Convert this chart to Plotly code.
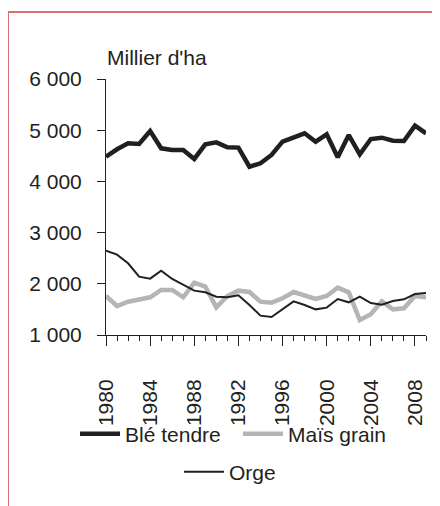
import plotly.graph_objects as go

years = list(range(1980, 2010))
ble_tendre = [4482, 4627, 4744, 4730, 4984, 4646, 4613, 4613, 4438, 4724,
              4763, 4666, 4660, 4287, 4353, 4516, 4776, 4854, 4939, 4776,
              4919, 4470, 4906, 4529, 4828, 4854, 4795, 4790, 5088, 4939]
mais_grain = [1762, 1566, 1651, 1684, 1736, 1879, 1879, 1736, 2022, 1944,
              1540, 1762, 1866, 1840, 1651, 1632, 1717, 1840, 1762, 1703,
              1762, 1924, 1834, 1293, 1404, 1658, 1501, 1521, 1762, 1736]
orge = [2647, 2569, 2400, 2139, 2100, 2256, 2094, 1977, 1866, 1834,
        1749, 1736, 1775, 1586, 1378, 1352, 1501, 1658, 1586, 1501,
        1534, 1703, 1638, 1749, 1625, 1592, 1664, 1697, 1801, 1820]

y_tickvals = [1000, 2000, 3000, 4000, 5000, 6000]
y_ticktext = ["1 000", "2 000", "3 000", "4 000", "5 000", "6 000"]
unit_label = "Millier d'ha"

FONT = "Liberation Sans, Arial, sans-serif"
TXT = "#231f20"
FS = 21

fig = go.Figure()
fig.add_trace(go.Scatter(x=years, y=ble_tendre, mode="lines", name="Blé tendre",
                         line=dict(color="#231f20", width=4.5), legend="legend"))
fig.add_trace(go.Scatter(x=years, y=mais_grain, mode="lines", name="Maïs grain",
                         line=dict(color="#b4b5b8", width=4.5), legend="legend"))
fig.add_trace(go.Scatter(x=years, y=orge, mode="lines", name="Orge",
                         line=dict(color="#231f20", width=2), legend="legend2"))

OFF = 8  # page body margin
W, H = 440, 506
L, T = 106 - OFF, 79 - OFF
pw, ph = 320, 256
R, B = W - L - pw, H - T - ph

def px_x(x):
    return (x - OFF - L) / pw

def px_y(y):
    return (T + ph - (y - OFF)) / ph

fig.update_layout(
    width=W, height=H,
    margin=dict(l=L, r=R, t=T, b=B),
    paper_bgcolor="white", plot_bgcolor="white",
    font=dict(family=FONT, size=FS, color=TXT),
    xaxis=dict(range=[1980, 2009], tick0=1980, dtick=4, ticks="outside",
               ticklen=10, tickcolor=TXT, showline=True, linecolor=TXT,
               linewidth=1, showgrid=False, zeroline=False, tickangle=-90,
               ticklabelstandoff=25,
               minor=dict(dtick=1, ticks="outside", ticklen=5, tickcolor=TXT,
                          showgrid=False)),
    yaxis=dict(range=[1000, 6000], tickvals=y_tickvals, ticktext=y_ticktext,
               ticks="outside", ticklen=8, tickcolor=TXT, showline=True,
               linecolor=TXT, linewidth=1, showgrid=False, zeroline=False,
               ticklabelstandoff=11),
    legend=dict(orientation="h", x=px_x(75), xanchor="left",
                y=px_y(434), yanchor="middle", font=dict(size=FS),
                itemwidth=40, entrywidth=108, bgcolor="rgba(0,0,0,0)"),
    legend2=dict(orientation="h", x=px_x(179), xanchor="left",
                 y=px_y(472), yanchor="middle", font=dict(size=FS),
                 itemwidth=40, bgcolor="rgba(0,0,0,0)"),
    annotations=[dict(text=unit_label, xref="paper", yref="paper",
                      x=px_x(105), y=px_y(57), xanchor="left", yanchor="middle",
                      showarrow=False, font=dict(size=FS, color=TXT))],
    shapes=[
        dict(type="line", xref="paper", yref="paper", x0=px_x(8), x1=px_x(450),
             y0=px_y(12), y1=px_y(12), line=dict(color="#d9716f", width=2)),
        dict(type="line", xref="paper", yref="paper", x0=px_x(8), x1=px_x(8),
             y0=px_y(12), y1=px_y(520), line=dict(color="#d9716f", width=2)),
    ],
)

fig.write_html("out.html")
